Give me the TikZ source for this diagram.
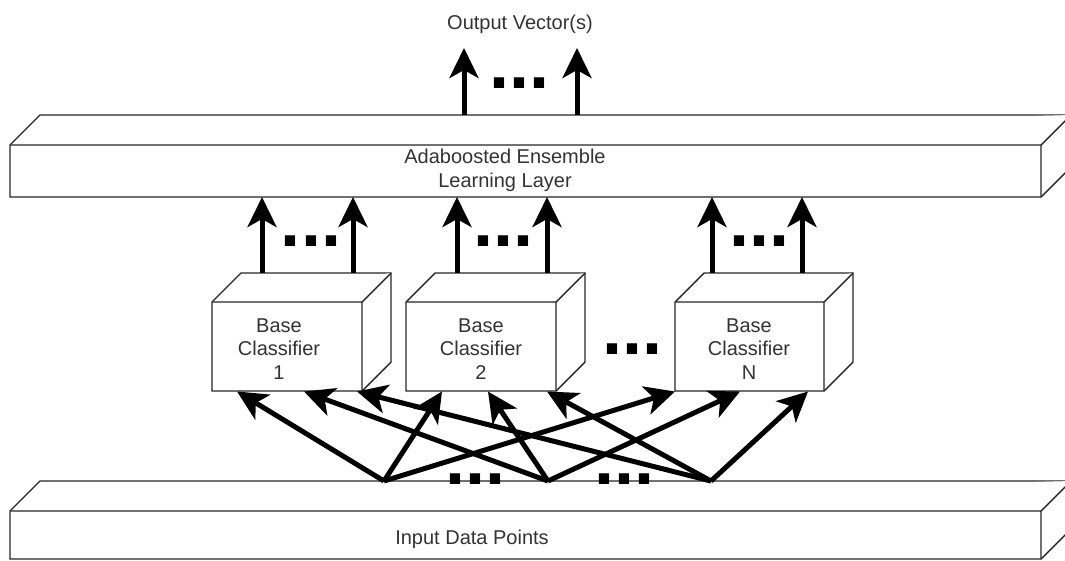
\documentclass[tikz,border=0pt]{standalone}
\usepackage{fontspec}
\setmainfont{Liberation Sans}
\usetikzlibrary{arrows.meta}
\tikzset{
  cube/.style={draw=black!85, line width=1.4pt, fill=white, line join=miter},
  lbl/.style={text=black!80, font=\fontsize{20}{23.5}\selectfont, inner sep=0pt, align=center, anchor=base},
  dotsl/.style={text=black, font=\fontsize{72}{72}\selectfont\bfseries, inner sep=0pt, anchor=base},
  flow/.style={line width=5pt, -{Stealth[length=30pt,width=29pt,inset=8pt]}},
}
\newcommand\drawcube[5]{%
  \filldraw[cube] (#1,#2) -- (#1+#5,#2-#5) -- (#3+#5,#2-#5) -- (#3+#5,#4-#5) -- (#3,#4) -- (#1,#4) -- cycle;
  \draw[cube] (#1,#2) -- (#3,#2) -- (#3+#5,#2-#5) (#3,#2) -- (#3,#4);
}
\begin{document}
\begin{tikzpicture}[x=1pt,y=-1pt]
\clip (0,0) rectangle (1065,560);
\fill[white] (0,0) rectangle (1065,560);
% layers
\drawcube{10}{145}{1041}{197}{30}
\drawcube{10}{511}{1041}{559}{30}
% base classifiers
\drawcube{212}{302}{362}{391}{29}
\drawcube{406}{302}{556}{391}{29}
\drawcube{675}{302}{824}{391}{29}
% texts (anchor base = last line's baseline)
\node[lbl] (out) at (520,29) {Output Vector(s)};
\node[lbl] (ens) at (505,187) {Adaboosted Ensemble\\Learning Layer};
\node[lbl] (bc1) at (279,379) {Base\\Classifier\\1};
\node[lbl] (bc2) at (481,379) {Base\\Classifier\\2};
\node[lbl] (bcn) at (749,379) {Base\\Classifier\\N};
\node[lbl] (inp) at (472,544) {Input Data Points};
% dots
\node[dotsl] (d0) at (519.5,88) {...};
\node[dotsl] (d1) at (311,246) {...};
\node[dotsl] (d2) at (503,246) {...};
\node[dotsl] (d3) at (759,246) {...};
\node[dotsl] (d4) at (632,354) {...};
\node[dotsl] (d5) at (475,484) {...};
\node[dotsl] (d6) at (624,484) {...};
% ports
\coordinate (sA) at (384,481);
\coordinate (sB) at (548,481);
\coordinate (sC) at (711,481);
\coordinate (t1a) at (237,391.5);
\coordinate (t1b) at (304,391.5);
\coordinate (t1c) at (357,391.5);
\coordinate (t2a) at (442,391.5);
\coordinate (t2b) at (488,391.5);
\coordinate (t2c) at (547,391.5);
\coordinate (tna) at (675,391.5);
\coordinate (tnb) at (740,391.5);
\coordinate (tnc) at (808,391.5);
\foreach \x/\n in {262/u1a,353/u1b,457/u2a,547/u2b,712/una,802/unb}{
  \coordinate (\n s) at (\x,273);
  \coordinate (\n e) at (\x,197);
}
\coordinate (o1s) at (464,115);
\coordinate (o1e) at (464,48);
\coordinate (o2s) at (577,115);
\coordinate (o2e) at (577,48);
% arrows input -> classifiers
\draw[flow] (sA) -- (t1a);
\draw[flow] (sA) -- (t2a);
\draw[flow] (sA) -- (tna);
\draw[flow] (sB) -- (t1b);
\draw[flow] (sB) -- (t2b);
\draw[flow] (sB) -- (tnb);
\draw[flow] (sC) -- (t1c);
\draw[flow] (sC) -- (t2c);
\draw[flow] (sC) -- (tnc);
% classifiers -> ensemble
\foreach \n in {u1a,u1b,u2a,u2b,una,unb}{\draw[flow] (\n s) -- (\n e);}
% outputs
\draw[flow] (o1s) -- (o1e);
\draw[flow] (o2s) -- (o2e);
\end{tikzpicture}
\end{document}
